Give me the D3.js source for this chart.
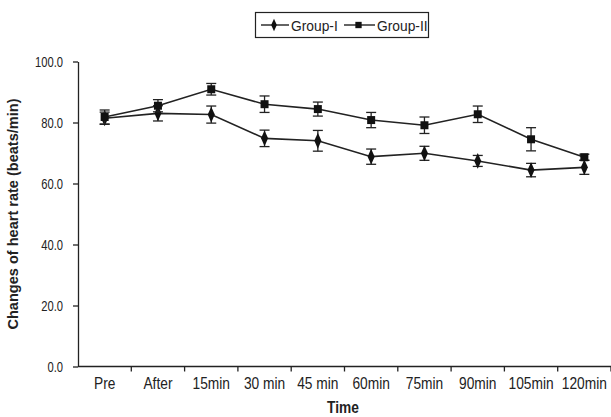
<!DOCTYPE html>
<html>
<head>
<meta charset="utf-8">
<script src="https://cdn.jsdelivr.net/npm/d3@7"></script>
<style>
  body { margin: 0; background: #fff; }
  svg text { font-family: "Liberation Sans", Arial, sans-serif; fill: #222; }
</style>
</head>
<body>
<div id="chart"></div>
<script>
// time points on the x axis
const times = ["Pre", "After", "15min", "30 min", "45 min", "60min", "75min", "90min", "105min", "120min"]

// mean heart rate (beats/min) and error for each group
const group1 = [81.4, 83.0, 82.6, 74.8, 74.0, 68.8, 69.9, 67.4, 64.4, 65.3]
const group1Err = [2.0, 2.5, 2.8, 2.7, 3.4, 2.5, 2.3, 1.8, 2.2, 2.3]
const group2 = [81.8, 85.5, 90.9, 86.0, 84.4, 80.8, 79.1, 82.7, 74.5, 68.6]
const group2Err = [2.3, 2.0, 1.9, 2.7, 2.3, 2.5, 2.7, 2.7, 3.8, 1.0]

const yTicks = [0, 20, 40, 60, 80, 100]

const width = 611,
  height = 417

const svg = d3.select("#chart").append("svg").attr("width", width).attr("height", height)

const x = d3.scaleBand().domain(times).range([78, 611])
const y = d3.scaleLinear().domain([0, 100]).range([366.5, 61.5])

// the source font is a narrow sans, so squeeze text horizontally
function narrowText(parent, tx, ty, sx, txt) {
  return parent
    .append("text")
    .attr("transform", `translate(${tx},${ty}) scale(${sx},1)`)
    .text(txt)
}

// y axis
const yAxis = svg
  .append("g")
  .attr("transform", "translate(78,0)")
  .call(d3.axisLeft(y).tickValues(yTicks).tickSize(5).tickSizeOuter(0).tickFormat(""))
yAxis.select(".domain").attr("stroke", "#222").attr("stroke-width", 1.3)
yAxis.selectAll(".tick line").attr("stroke", "#222").attr("stroke-width", 1.3)
yTicks.forEach((t) => {
  narrowText(svg, 63, y(t) + 5, 0.8, d3.format(".1f")(t))
    .attr("text-anchor", "end")
    .attr("font-size", 14)
})

// x axis, ticks sit on the band edges
const xAxis = svg.append("g").attr("transform", `translate(0,${y(0)})`)
xAxis.append("line").attr("x1", 78).attr("x2", 611).attr("stroke", "#222").attr("stroke-width", 1.3)
xAxis
  .selectAll(".edge")
  .data(times)
  .enter()
  .append("line")
  .attr("x1", (d) => x(d) + x.bandwidth())
  .attr("x2", (d) => x(d) + x.bandwidth())
  .attr("y1", 0)
  .attr("y2", 5)
  .attr("stroke", "#222")
  .attr("stroke-width", 1.3)
times.forEach((t) => {
  narrowText(xAxis, x(t) + x.bandwidth() / 2, 22, 0.86, t)
    .attr("text-anchor", "middle")
    .attr("font-size", 16)
})

// axis titles
svg
  .append("text")
  .attr("transform", `translate(18,${(y(0) + y(100)) / 2}) rotate(-90) scale(0.97,1)`)
  .attr("text-anchor", "middle")
  .attr("font-size", 15)
  .attr("font-weight", "bold")
  .text("Changes of heart rate (beats/min)")

narrowText(svg, 343, 413, 0.86, "Time")
  .attr("text-anchor", "middle")
  .attr("font-size", 16)
  .attr("font-weight", "bold")

const cx = (i) => x(times[i]) + x.bandwidth() / 2

const line = d3
  .line()
  .x((d, i) => cx(i))
  .y((d) => y(d))

function drawSeries(values, errs, shape) {
  const g = svg.append("g")
  g.append("path").attr("d", line(values)).attr("fill", "none").attr("stroke", "#222").attr("stroke-width", 1.6)

  // error bars
  const eb = g.selectAll(".err").data(values).enter().append("g")
  eb.append("line")
    .attr("x1", (d, i) => cx(i))
    .attr("x2", (d, i) => cx(i))
    .attr("y1", (d, i) => y(d + errs[i]))
    .attr("y2", (d, i) => y(d - errs[i]))
    .attr("stroke", "#222")
    .attr("stroke-width", 1.3)
  ;[1, -1].forEach((s) => {
    eb.append("line")
      .attr("x1", (d, i) => cx(i) - 5)
      .attr("x2", (d, i) => cx(i) + 5)
      .attr("y1", (d, i) => y(d + s * errs[i]))
      .attr("y2", (d, i) => y(d + s * errs[i]))
      .attr("stroke", "#222")
      .attr("stroke-width", 1.3)
  })

  g.selectAll(".mk")
    .data(values)
    .enter()
    .append("path")
    .attr("d", d3.symbol().type(shape).size(shape === d3.symbolSquare ? 64 : 60))
    .attr("transform", (d, i) => `translate(${cx(i)},${y(d)})` + (shape === d3.symbolSquare ? "" : " scale(0.85,1.1)"))
    .attr("fill", "#111")
}

drawSeries(group1, group1Err, d3.symbolDiamond)
drawSeries(group2, group2Err, d3.symbolSquare)

// legend
const legend = svg.append("g")
legend
  .append("rect")
  .attr("x", 255.5)
  .attr("y", 12.5)
  .attr("width", 173)
  .attr("height", 25)
  .attr("fill", "#fff")
  .attr("stroke", "#222")
  .attr("stroke-width", 1.2)

const legendItems = [
  { name: "Group-I", shape: d3.symbolDiamond, x0: 261, len: 28 },
  { name: "Group-II", shape: d3.symbolSquare, x0: 344, len: 31 },
]
legendItems.forEach((it) => {
  legend
    .append("line")
    .attr("x1", it.x0)
    .attr("x2", it.x0 + it.len)
    .attr("y1", 25)
    .attr("y2", 25)
    .attr("stroke", "#222")
    .attr("stroke-width", 1.4)
  legend
    .append("path")
    .attr("d", d3.symbol().type(it.shape).size(it.shape === d3.symbolSquare ? 40 : 38))
    .attr("transform", `translate(${it.x0 + it.len / 2 - 1},25)` + (it.shape === d3.symbolSquare ? "" : " scale(0.85,1.1)"))
    .attr("fill", "#111")
  narrowText(legend, it.x0 + it.len + 2, 30.5, 0.92, it.name).attr("font-size", 15)
})
</script>
</body>
</html>
